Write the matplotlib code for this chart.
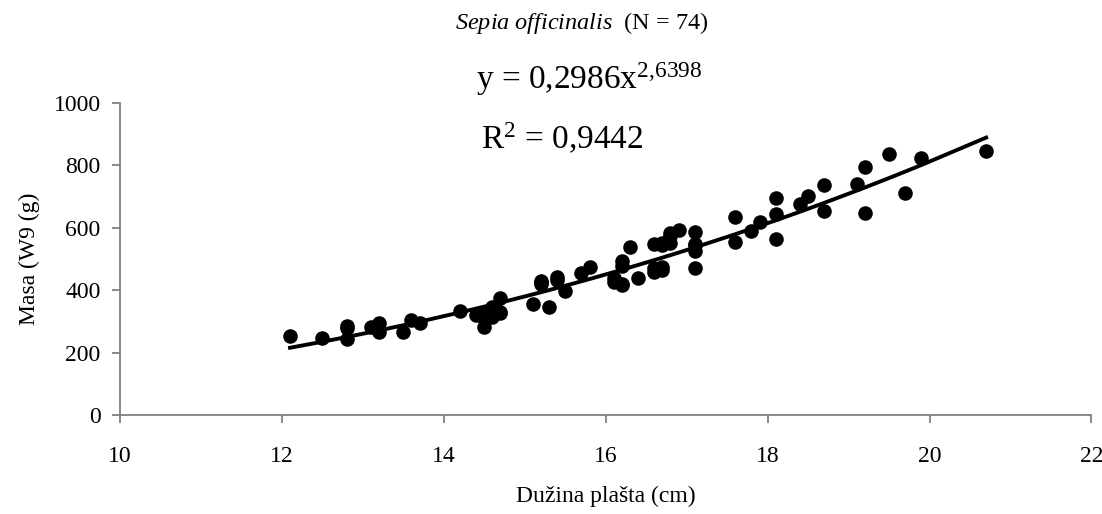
import numpy as np
import matplotlib
matplotlib.use("Agg")
import matplotlib.pyplot as plt

plt.rcParams["font.family"] = ["Liberation Serif", "DejaVu Serif"]
plt.rcParams["mathtext.fontset"] = "custom"
plt.rcParams["mathtext.rm"] = "Liberation Serif"
plt.rcParams["mathtext.it"] = "Liberation Serif:italic"

# mantle length (cm) and mass W9 (g)
length = [12.1, 12.5, 12.8, 12.8, 12.8, 13.1, 13.2, 13.2, 13.5, 13.6, 13.7,
          14.2, 14.4, 14.5, 14.5, 14.5, 14.6, 14.6, 14.6, 14.65, 14.7, 14.7, 14.7,
          15.1, 15.2, 15.2, 15.2, 15.3, 15.4, 15.4, 15.5, 15.7, 15.8,
          16.1, 16.1, 16.2, 16.2, 16.2, 16.2, 16.3, 16.4, 16.6, 16.6, 16.6,
          16.7, 16.7, 16.7, 16.7, 16.8, 16.8, 16.8, 16.9,
          17.1, 17.1, 17.1, 17.1, 17.1, 17.6, 17.6, 17.8, 17.9,
          18.1, 18.1, 18.1, 18.4, 18.5, 18.7, 18.7,
          19.1, 19.2, 19.2, 19.5, 19.7, 19.9, 20.7]
mass = [252, 246, 284, 244, 280, 282, 295, 265, 266, 304, 296,
        334, 320, 282, 331, 310, 315, 347, 330, 340, 326, 374, 330,
        356, 430, 420, 425, 347, 443, 433, 398, 456, 475,
        427, 440, 418, 495, 478, 420, 539, 438, 459, 548, 470,
        475, 465, 550, 545, 582, 552, 575, 593,
        588, 548, 527, 470, 545, 636, 553, 591, 620,
        694, 644, 564, 676, 702, 737, 655,
        740, 796, 648, 836, 712, 823, 847]

# power trend line shown on the chart
coef_a = 0.2986
coef_b = 2.6398

fig = plt.figure(figsize=(11.02, 5.14), dpi=100)
ax = fig.add_axes([0.1089, 0.1926, 0.8815, 0.607])

ax.scatter(length, mass, s=110, color="black", zorder=3, linewidths=0)
xt = np.array(sorted(set(length)))
ax.plot(xt, coef_a * xt ** coef_b, color="black", linewidth=2.8, zorder=2)

ax.set_xlim(10, 22)
ax.set_ylim(0, 1000)
ax.set_xticks(range(10, 23, 2))
ax.set_yticks(range(0, 1001, 200))
for s in ["top", "right"]:
    ax.spines[s].set_visible(False)
for s in ["left", "bottom"]:
    ax.spines[s].set_color("#808080")
    ax.spines[s].set_linewidth(1.3)
ax.tick_params(direction="out", length=6, width=1.3, color="#808080",
               labelsize=17, pad=8)
ax.tick_params(axis="x", pad=16)

ax.set_xlabel("Dužina plašta (cm)", fontsize=17, labelpad=14)
ax.set_ylabel("Masa (W9 (g)", fontsize=17, labelpad=10)

fig.text(0.528, 0.955, r"$\it{Sepia\ officinalis}$  (N = 74)",
         ha="center", va="center", fontsize=17.5)
fig.text(0.535, 0.845, r"y = 0,2986x$^{2{,}6398}$",
         ha="center", va="center", fontsize=24)
fig.text(0.51, 0.73, r"R$^{2}$ = 0,9442",
         ha="center", va="center", fontsize=24)

fig.savefig("out.png", dpi=100, facecolor="white")
